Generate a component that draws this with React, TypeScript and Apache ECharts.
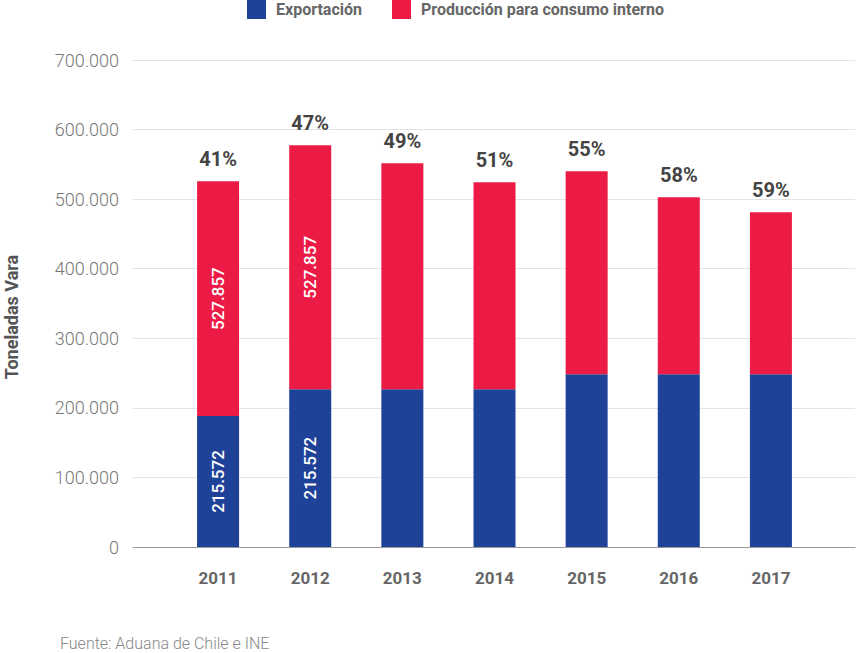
import React, { useEffect, useRef } from "react";
import * as echarts from "echarts";

const years = ["2011", "2012", "2013", "2014", "2015", "2016", "2017"];
const exportacion = [188300, 226700, 226700, 226700, 248200, 248200, 248200];
const consumoInterno = [337400, 350700, 324800, 297500, 291800, 254500, 232900];
const pctLabels = ["41%", "47%", "49%", "51%", "55%", "58%", "59%"];
const exportLabels = ["215.572", "215.572", "", "", "", "", ""];
const internoLabels = ["527.857", "527.857", "", "", "", "", ""];
const yTicks = [0, 100000, 200000, 300000, 400000, 500000, 600000, 700000];

const BLUE = "#1F4299";
const RED = "#EC1B46";

const fmt = (v: number) =>
  v === 0 ? "0" : String(v).replace(/\B(?=(\d{3})+(?!\d))/g, ".");

const insideLabel = (txt: string) => ({
  show: txt !== "",
  position: "inside",
  rotate: 90,
  formatter: txt,
  color: "#ffffff",
  fontSize: 17,
  fontWeight: 500,
  fontFamily: "Roboto",
});

export default function App() {
  const ref = useRef<HTMLDivElement>(null);
  useEffect(() => {
    if (!ref.current) return;
    const chart = echarts.init(ref.current, undefined, { renderer: "svg" });
    const yMax = yTicks[yTicks.length - 1];
    chart.setOption({
      animation: false,
      backgroundColor: "#ffffff",
      textStyle: { fontFamily: "Roboto" },
      legend: {
        top: 0,
        left: 247,
        padding: 0,
        itemWidth: 19,
        itemHeight: 19,
        itemGap: 30,
        icon: "rect",
        textStyle: { fontSize: 16, fontWeight: "bold", color: "#666666", fontFamily: "Roboto", padding: [0, 0, 0, 5] },
        data: ["Exportación", "Producción para consumo interno"],
      },
      grid: [
        { left: 133, right: 1, top: 60, bottom: 106 },
        { left: 172, right: 39, top: 60, bottom: 106 },
      ],
      xAxis: [
        {
          type: "category",
          gridIndex: 0,
          data: [""],
          axisLine: { show: true, lineStyle: { color: "#999999", width: 1 } },
          axisTick: { show: false },
          axisLabel: { show: false },
        },
        {
          type: "category",
          gridIndex: 1,
          data: years,
          axisLine: { show: false },
          axisTick: { show: false },
          axisLabel: {
            fontSize: 17,
            fontWeight: "bold",
            color: "#666666",
            margin: 22,
            fontFamily: "Roboto",
          },
        },
      ],
      yAxis: [
        {
          type: "value",
          gridIndex: 0,
          min: 0,
          max: yMax,
          interval: 100000,
          axisLine: { show: false },
          axisTick: { show: false },
          splitLine: { lineStyle: { color: "#e3e3e3", width: 1 } },
          axisLabel: {
            formatter: (v: number) => fmt(v),
            fontSize: 18,
            fontWeight: 300,
            color: "#777777",
            margin: 14,
            fontFamily: "Roboto",
          },
        },
        {
          type: "value",
          gridIndex: 1,
          min: 0,
          max: yMax,
          interval: 100000,
          show: false,
          splitLine: { show: false },
        },
      ],
      series: [
        {
          name: "Exportación",
          type: "bar",
          xAxisIndex: 1,
          yAxisIndex: 1,
          stack: "total",
          barWidth: 42,
          itemStyle: { color: BLUE },
          data: exportacion.map((v, i) => ({ value: v, label: insideLabel(exportLabels[i]) })),
        },
        {
          name: "Producción para consumo interno",
          type: "bar",
          xAxisIndex: 1,
          yAxisIndex: 1,
          stack: "total",
          barWidth: 42,
          itemStyle: { color: RED },
          data: consumoInterno.map((v, i) => ({ value: v, label: insideLabel(internoLabels[i]) })),
        },
        {
          name: "ghost-export",
          type: "bar",
          xAxisIndex: 1,
          yAxisIndex: 1,
          stack: "ghost",
          barWidth: 42,
          silent: true,
          itemStyle: { color: "rgba(0,0,0,0)" },
          data: exportacion,
        },
        {
          name: "ghost-interno",
          type: "bar",
          xAxisIndex: 1,
          yAxisIndex: 1,
          stack: "ghost",
          barWidth: 42,
          barGap: "-100%",
          silent: true,
          itemStyle: { color: "rgba(0,0,0,0)" },
          label: {
            show: true,
            position: "top",
            distance: 12,
            formatter: (p: any) => pctLabels[p.dataIndex],
            fontSize: 20,
            fontWeight: "bold",
            color: "#444444",
            fontFamily: "Roboto",
          },
          data: consumoInterno,
        },
      ],
      graphic: [
        {
          type: "text",
          x: 11,
          y: 317,
          rotation: Math.PI / 2,
          style: {
            text: "Toneladas Vara",
            fontSize: 18,
            fontWeight: "bold",
            fill: "#555555",
            fontFamily: "Roboto",
            textAlign: "center",
            textVerticalAlign: "middle",
          },
        },
        {
          type: "text",
          x: 60,
          y: 643,
          style: {
            text: "Fuente: Aduana de Chile e INE",
            fontSize: 16,
            fontWeight: 300,
            fill: "#888888",
            fontFamily: "Roboto",
            textAlign: "left",
            textVerticalAlign: "middle",
          },
        },
      ],
    });
    return () => chart.dispose();
  }, []);
  return (
    <div
      ref={ref}
      style={{ position: "fixed", left: 0, top: 0, width: 856, height: 653 }}
    />
  );
}
